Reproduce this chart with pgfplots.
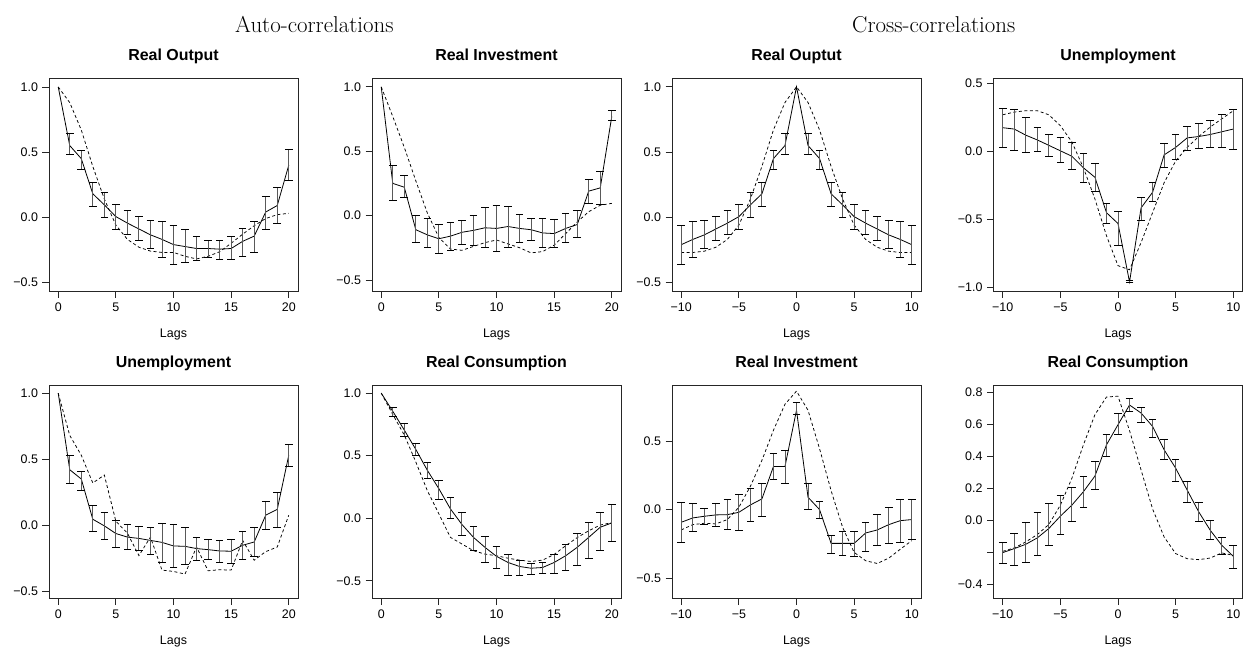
\documentclass[border=0pt]{standalone}
\usepackage{fontspec}
\usepackage{pgfplots}
\usepackage{pgfplotstable}
\pgfplotsset{compat=1.18}
\newfontfamily\hv{Liberation Sans}
\definecolor{barcol}{gray}{0.35}

% auto: Real Output
\pgfplotstableread{
lag m lo hi d
0 1.00 1.00 1.00 1.00
1 0.55 0.48 0.64 0.88
2 0.45 0.37 0.51 0.67
3 0.18 0.08 0.27 0.39
4 0.095 0.00 0.19 0.14
5 0.005 -0.09 0.10 -0.06
6 -0.045 -0.135 0.05 -0.17
7 -0.09 -0.18 0.005 -0.23
8 -0.135 -0.24 -0.025 -0.26
9 -0.17 -0.31 -0.03 -0.27
10 -0.21 -0.36 -0.06 -0.27
11 -0.225 -0.35 -0.09 -0.30
12 -0.24 -0.33 -0.15 -0.32
13 -0.24 -0.31 -0.175 -0.30
14 -0.245 -0.32 -0.175 -0.265
15 -0.24 -0.32 -0.15 -0.20
16 -0.185 -0.30 -0.085 -0.13
17 -0.145 -0.27 -0.035 -0.065
18 0.04 -0.09 0.16 -0.01
19 0.09 -0.05 0.23 0.02
20 0.40 0.28 0.52 0.03
}\PA

% auto: Real Investment
\pgfplotstableread{
lag m lo hi d
0 1.00 1.00 1.00 1.00
1 0.25 0.12 0.39 0.77
2 0.22 0.14 0.315 0.53
3 -0.11 -0.21 0.00 0.27
4 -0.15 -0.25 -0.02 0.02
5 -0.18 -0.295 -0.07 -0.17
6 -0.16 -0.27 -0.05 -0.26
7 -0.13 -0.225 -0.04 -0.27
8 -0.115 -0.23 0.00 -0.24
9 -0.095 -0.25 0.067 -0.21
10 -0.10 -0.28 0.08 -0.19
11 -0.085 -0.245 0.07 -0.22
12 -0.10 -0.205 0.01 -0.25
13 -0.11 -0.19 -0.02 -0.29
14 -0.135 -0.245 -0.025 -0.28
15 -0.14 -0.25 -0.03 -0.23
16 -0.10 -0.21 0.02 -0.14
17 -0.07 -0.17 0.04 -0.05
18 0.19 0.095 0.28 0.03
19 0.215 0.09 0.345 0.08
20 0.77 0.74 0.82 0.095
}\PB

% cross: Real Output
\pgfplotstableread{
lag m lo hi d
-10 -0.21 -0.36 -0.06 -0.27
-9 -0.17 -0.31 -0.03 -0.27
-8 -0.135 -0.24 -0.025 -0.26
-7 -0.09 -0.18 0.005 -0.23
-6 -0.045 -0.135 0.05 -0.17
-5 0.005 -0.09 0.10 -0.06
-4 0.095 0.00 0.19 0.14
-3 0.18 0.08 0.27 0.39
-2 0.45 0.37 0.51 0.67
-1 0.55 0.48 0.64 0.88
0 1.00 1.00 1.00 1.00
1 0.55 0.48 0.64 0.88
2 0.45 0.37 0.51 0.67
3 0.18 0.08 0.27 0.39
4 0.095 0.00 0.19 0.14
5 0.005 -0.09 0.10 -0.06
6 -0.045 -0.135 0.05 -0.17
7 -0.09 -0.18 0.005 -0.23
8 -0.135 -0.24 -0.025 -0.26
9 -0.17 -0.31 -0.03 -0.27
10 -0.21 -0.36 -0.06 -0.27
}\PC

% cross: Unemployment
\pgfplotstableread{
lag m lo hi d
-10 0.175 0.03 0.32 0.27
-9 0.165 0.01 0.31 0.29
-8 0.12 -0.01 0.25 0.30
-7 0.085 0.0 0.175 0.30
-6 0.045 -0.035 0.125 0.27
-5 0.005 -0.08 0.10 0.19
-4 -0.035 -0.13 0.065 0.07
-3 -0.12 -0.225 -0.015 -0.12
-2 -0.19 -0.29 -0.09 -0.35
-1 -0.45 -0.53 -0.38 -0.62
0 -0.53 -0.69 -0.44 -0.84
1 -0.96 -0.965 -0.95 -0.87
2 -0.415 -0.51 -0.34 -0.67
3 -0.30 -0.365 -0.23 -0.45
4 -0.025 -0.115 0.06 -0.23
5 0.03 -0.06 0.125 -0.07
6 0.10 0.01 0.185 0.03
7 0.11 0.025 0.205 0.11
8 0.125 0.03 0.23 0.18
9 0.145 0.03 0.27 0.24
10 0.165 0.015 0.31 0.30
}\PD

% auto: Unemployment
\pgfplotstableread{
lag m lo hi d
0 1.00 1.00 1.00 1.00
1 0.42 0.32 0.525 0.68
2 0.35 0.26 0.41 0.53
3 0.045 -0.05 0.147 0.32
4 -0.005 -0.11 0.096 0.38
5 -0.063 -0.17 0.033 0.03
6 -0.09 -0.185 0.005 -0.06
7 -0.10 -0.19 -0.012 -0.23
8 -0.115 -0.22 -0.013 -0.09
9 -0.13 -0.28 0.013 -0.34
10 -0.157 -0.32 0.005 -0.35
11 -0.16 -0.30 -0.02 -0.37
12 -0.177 -0.265 -0.09 -0.165
13 -0.185 -0.258 -0.106 -0.345
14 -0.195 -0.28 -0.114 -0.337
15 -0.197 -0.286 -0.106 -0.34
16 -0.152 -0.26 -0.05 -0.115
17 -0.127 -0.233 -0.018 -0.265
18 0.076 -0.033 0.18 -0.20
19 0.12 -0.013 0.25 -0.165
20 0.53 0.443 0.615 0.076
}\PE

% auto: Real Consumption
\pgfplotstableread{
lag m lo hi d
0 1.00 1.00 1.00 1.00
1 0.855 0.81 0.887 0.83
2 0.705 0.657 0.76 0.665
3 0.55 0.505 0.60 0.45
4 0.383 0.316 0.445 0.22
5 0.236 0.147 0.30 0.035
6 0.075 -0.005 0.163 -0.153
7 -0.05 -0.14 0.043 -0.206
8 -0.153 -0.26 -0.062 -0.26
9 -0.233 -0.354 -0.147 -0.287
10 -0.305 -0.40 -0.225 -0.30
11 -0.354 -0.456 -0.29 -0.32
12 -0.386 -0.46 -0.335 -0.335
13 -0.40 -0.448 -0.362 -0.346
14 -0.394 -0.442 -0.354 -0.335
15 -0.354 -0.44 -0.287 -0.29
16 -0.30 -0.416 -0.206 -0.22
17 -0.233 -0.375 -0.118 -0.155
18 -0.153 -0.32 -0.032 -0.10
19 -0.072 -0.255 0.043 -0.055
20 -0.038 -0.188 0.11 -0.035
}\PF

% cross: Real Investment
\pgfplotstableread{
lag m lo hi d
-10 -0.093 -0.24 0.054 -0.149
-9 -0.061 -0.16 0.042 -0.11
-8 -0.049 -0.11 0.01 -0.10
-7 -0.039 -0.122 0.042 -0.105
-6 -0.037 -0.142 0.073 -0.073
-5 -0.02 -0.15 0.108 0.017
-4 0.034 -0.088 0.156 0.17
-3 0.078 -0.051 0.193 0.36
-2 0.315 0.22 0.408 0.58
-1 0.315 0.188 0.433 0.77
0 0.726 0.697 0.78 0.866
1 0.09 -0.002 0.193 0.726
2 0.0 -0.068 0.061 0.445
3 -0.247 -0.318 -0.19 0.139
4 -0.247 -0.337 -0.16 -0.13
5 -0.247 -0.342 -0.159 -0.313
6 -0.171 -0.308 -0.093 -0.374
7 -0.149 -0.264 -0.032 -0.394
8 -0.11 -0.247 0.017 -0.355
9 -0.081 -0.24 0.078 -0.29
10 -0.073 -0.215 0.073 -0.227
}\PG

% cross: Real Consumption
\pgfplotstableread{
lag m lo hi d
-10 -0.203 -0.272 -0.142 -0.195
-9 -0.178 -0.283 -0.084 -0.174
-8 -0.151 -0.266 -0.015 -0.136
-7 -0.111 -0.22 0.048 -0.09
-6 -0.052 -0.157 0.105 -0.027
-5 0.025 -0.09 0.157 0.094
-4 0.094 -0.01 0.205 0.262
-3 0.178 0.08 0.276 0.471
-2 0.276 0.193 0.366 0.66
-1 0.471 0.398 0.534 0.77
0 0.597 0.534 0.666 0.775
1 0.72 0.68 0.76 0.56
2 0.67 0.614 0.708 0.314
3 0.586 0.519 0.632 0.07
4 0.44 0.377 0.507 -0.105
5 0.325 0.245 0.381 -0.209
6 0.188 0.111 0.243 -0.241
7 0.052 -0.01 0.109 -0.247
8 -0.063 -0.119 -0.004 -0.237
9 -0.157 -0.214 -0.105 -0.205
10 -0.226 -0.299 -0.161 -0.22
}\PH

\pgfplotsset{
  panel/.style={
    scale only axis, width=249bp, height=213bp, anchor=south west,
    axis line style={line width=0.9bp, black!85},
    tick align=outside, major tick length=6.5bp,
    every tick/.style={line width=0.8bp, black!85},
    xtick pos=bottom, ytick pos=left,
    tick label style={font=\hv\fontsize{12.5}{14}\selectfont},
    xticklabel style={yshift=-1.5bp},
    yticklabel style={xshift=-1bp},
    /pgf/number format/assume math mode=true,
    title style={font=\hv\bfseries\fontsize{16}{18}\selectfont, at={(axis description cs:0.5,1)}, anchor=base, yshift=12bp},
    xlabel={Lags},
    xlabel style={font=\hv\fontsize{12.5}{14}\selectfont, at={(axis description cs:0.5,0)}, anchor=base, yshift=-46bp},
  },
  autoax/.style={panel, xmin=-0.8, xmax=20.8, xtick={0,5,10,15,20}, xticklabels={0,5,10,15,20},
    ytick={-0.5,0,0.5,1}, yticklabels={−0.5,0.0,0.5,1.0}},
  crossax/.style={panel, xmin=-10.8, xmax=10.8, xtick={-10,-5,0,5,10}, xticklabels={−10,−5,0,5,10}},
  mline/.style={black, line width=0.8bp, mark=none},
  dline/.style={black, line width=0.75bp, dash pattern=on 3bp off 2.5bp, mark=none},
  ebar/.style={draw=none, mark=none, forget plot,
    error bars/.cd, y dir=both, y explicit, error mark=|,
    error bar style={draw=barcol, line width=0.9bp, solid},
    error mark options={draw=black, line width=0.8bp, mark size=3.8bp, solid},
    /pgfplots/.cd},
}
\newcommand\panel[3]{%
  \addplot[dline] table[x=lag, y=d] {#1};
  \addplot[mline] table[x=lag, y=m] {#1};
  \addplot[skip coords between index={#2}{#3}, ebar] table[x=lag, y=m,
     y error plus expr=\thisrow{hi}-\thisrow{m},
     y error minus expr=\thisrow{m}-\thisrow{lo}] {#1};
}

\begin{document}
\begin{tikzpicture}
\path[use as bounding box] (0,0) rectangle (1243bp,647bp);
\node[anchor=base west, font=\fontsize{23}{26}\selectfont, inner sep=0pt] at (235bp,614bp) {Auto-correlations};
\node[anchor=base west, font=\fontsize{23}{26}\selectfont, inner sep=0pt] at (852bp,614bp) {Cross-correlations};

% Row 1
\begin{axis}[autoax, at={(49bp,355.5bp)}, ymin=-0.57, ymax=1.065, title={Real Output}]
\panel{\PA}{0}{1}
\end{axis}
\begin{axis}[autoax, at={(372bp,355.5bp)}, ymin=-0.59, ymax=1.065, title={Real Investment}]
\panel{\PB}{0}{1}
\end{axis}
\begin{axis}[crossax, at={(672bp,355.5bp)}, ymin=-0.569, ymax=1.064, title={Real Ouptut},
  ytick={-0.5,0,0.5,1}, yticklabels={−0.5,0.0,0.5,1.0}]
\panel{\PC}{10}{11}
\end{axis}
\begin{axis}[crossax, at={(993.5bp,355.5bp)}, ymin=-1.03, ymax=0.537, title={Unemployment},
  ytick={-1,-0.5,0,0.5}, yticklabels={−1.0,−0.5,0.0,0.5}]
\panel{\PD}{30}{31}
\end{axis}

% Row 2
\begin{axis}[autoax, at={(49bp,48.5bp)}, ymin=-0.555, ymax=1.058, title={Unemployment}]
\panel{\PE}{0}{1}
\end{axis}
\begin{axis}[autoax, at={(372bp,48.5bp)}, ymin=-0.642, ymax=1.061, title={Real Consumption}]
\panel{\PF}{0}{1}
\end{axis}
\begin{axis}[crossax, at={(672bp,48.5bp)}, ymin=-0.65, ymax=0.907, title={Real Investment},
  ytick={-0.5,0,0.5}, yticklabels={−0.5,0.0,0.5}]
\panel{\PG}{30}{31}
\end{axis}
\begin{axis}[crossax, at={(993.5bp,48.5bp)}, ymin=-0.49, ymax=0.842, title={Real Consumption},
  ytick={-0.4,-0.2,0,0.2,0.4,0.6,0.8}, yticklabels={−0.4,{},0.0,0.2,0.4,0.6,0.8}]
\panel{\PH}{30}{31}
\end{axis}
\end{tikzpicture}
\end{document}
